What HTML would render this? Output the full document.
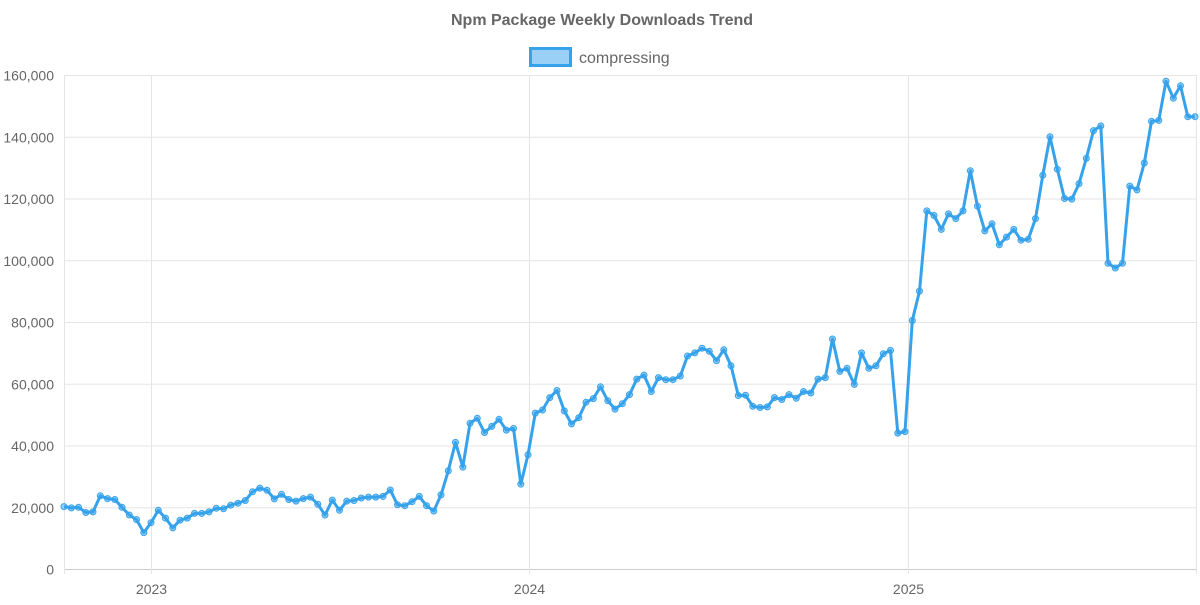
<!DOCTYPE html>
<html><head><style>
body{margin:0;background:#fff;width:1200px;height:600px;overflow:hidden;font-family:"Liberation Sans",Arial,sans-serif}
</style></head><body>
<svg id="s" width="1200" height="600" xmlns="http://www.w3.org/2000/svg" font-family="Liberation Sans, Arial, sans-serif">
<text x="602" y="25" text-anchor="middle" font-size="16" font-weight="bold" fill="#666">Npm Package Weekly Downloads Trend</text>
<rect x="530.5" y="48.5" width="40" height="17" fill="#9ad0f5" stroke="#36a2eb" stroke-width="3"/>
<text x="579" y="63" font-size="16" fill="#666">compressing</text>
<g id="grid"></g>
<polyline id="line" fill="none" stroke="#36a2eb" stroke-width="3" stroke-linejoin="round"/>
<g id="pts"></g>
</svg>
<script>
const d=[20.2,19.8,20,18.3,18.5,23.7,22.8,22.5,20,17.5,16,11.8,15,19,16.5,13.3,15.8,16.5,18,18,18.5,19.7,19.5,20.7,21.3,22.2,25,26.2,25.5,22.7,24.2,22.5,22,22.8,23.3,21,17.5,22.3,19,22,22.2,23,23.3,23.3,23.5,25.6,20.8,20.5,21.8,23.5,20.5,18.8,24,31.8,41,33,47.2,48.8,44.2,46.2,48.5,45,45.5,27.5,37,50.5,51.5,55.5,57.8,51.2,47,49,54,55.2,59,54.5,51.8,53.5,56.5,61.5,62.8,57.5,62,61.3,61.3,62.5,69,70,71.5,70.5,67.5,71,65.8,56.2,56.3,52.7,52.3,52.5,55.5,54.9,56.5,55.3,57.5,57,61.5,62,74.5,64,65,59.8,70,65,65.8,69.7,70.8,44,44.5,80.5,90,116,114.5,110,115,113.5,116,129,117.5,109.5,111.8,105,107.5,110,106.5,106.8,113.5,127.5,140,129.5,120,119.8,124.8,133,142,143.5,99,97.5,99,124,122.8,131.5,145,145.3,158,152.5,156.5,146.5,146.5];
const NS="http://www.w3.org/2000/svg";
const y0=569,y1=75,x0=64,x1=1196;
const Y=v=>y0-(v/160)*(y0-y1);
let g='';
for(let i=0;i<=8;i++){const y=Y(i*20)+0.5;g+=`<line x1="${x0}" x2="${x1}" y1="${y}" y2="${y}" stroke="${i==0?'#ccc':'#e5e5e5'}"/><text x="54" y="${y+5}" text-anchor="end" font-size="14" fill="#666">${i==0?'0':(i*20)+',000'}</text>`;}
[[64.5,''],[151.5,'2023'],[529.5,'2024'],[908.5,'2025'],[1196.5,'']].forEach(([x,t])=>{g+=`<line x1="${x}" x2="${x}" y1="${y1}" y2="${y0+5}" stroke="#e5e5e5"/>`;if(t)g+=`<text x="${x}" y="594" text-anchor="middle" font-size="14" fill="#666">${t}</text>`;});
document.getElementById('grid').innerHTML=g;
const s=(x1-x0-1)/(d.length-1);
let p=[],c='';
d.forEach((v,i)=>{const x=x0+i*s,y=Y(v);p.push(x.toFixed(1)+','+y.toFixed(1));c+=`<circle cx="${x.toFixed(1)}" cy="${y.toFixed(1)}" r="3" fill="rgba(54,162,235,0.5)" stroke="#36a2eb" stroke-width="1"/>`;});
document.getElementById('line').setAttribute('points',p.join(' '));
document.getElementById('pts').innerHTML=c;
</script>
</body></html>
